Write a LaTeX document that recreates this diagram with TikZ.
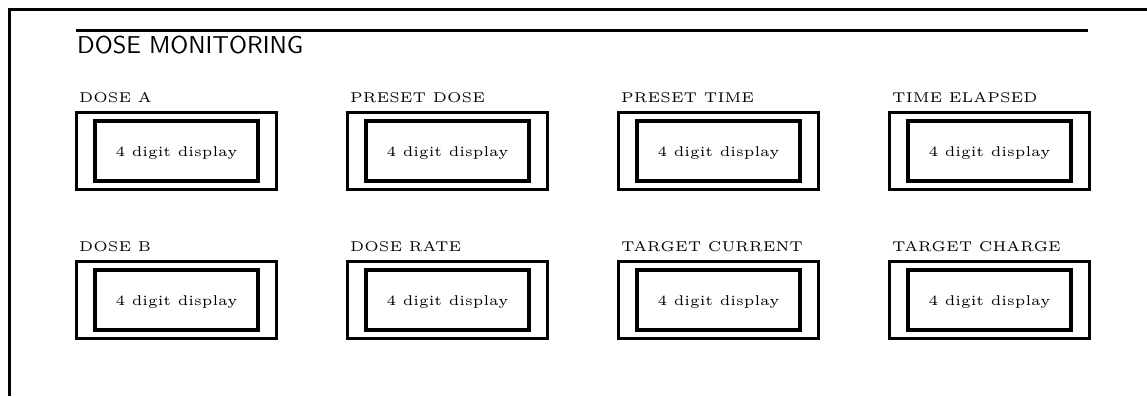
\documentclass[tikz,border=0pt]{standalone}
\usepackage{graphicx}
\newcommand\panelfont[1]{\scalebox{2.83}{\fontsize{5}{6}\selectfont #1}}
\tikzset{
  frameline/.style={line width=3pt},
  outerbox/.style={draw, line width=3pt, minimum width=200pt, minimum height=77pt, inner sep=0pt},
  innerbox/.style={draw, line width=4pt, minimum width=163pt, minimum height=60pt, inner sep=0pt},
  lbl/.style={anchor=base west, inner sep=0pt},
  disp/.style={anchor=base, inner sep=0pt},
  ttl/.style={anchor=base west, inner sep=0pt, font=\sffamily}
}
\begin{document}
\begin{tikzpicture}[x=1pt,y=-1pt]
\useasboundingbox (0,0) rectangle (1147,396);
\coordinate (tr) at (1147,9.5);
\coordinate (tl) at (9.5,9.5);
\coordinate (bl) at (9.5,396);
\draw[frameline] (tr) -- (tl) -- (bl);
\coordinate (ra) at (76,30.5);
\coordinate (rb) at (1088,30.5);
\draw[frameline] (ra) -- (rb);
\node[ttl] (title) at (77,54) {\resizebox{226pt}{!}{DOSE MONITORING}};
\foreach \lab/\c/\r [count=\i] in {DOSE A/0/0, PRESET DOSE/1/0, PRESET TIME/2/0, TIME ELAPSED/3/0,
  DOSE B/0/1, DOSE RATE/1/1, TARGET CURRENT/2/1, TARGET CHARGE/3/1}{
  \pgfmathsetmacro\cx{176.5+271*\c}
  \pgfmathsetmacro\cy{151+149*\r}
  \node[outerbox] (o\i) at (\cx,\cy) {};
  \node[innerbox] (n\i) at (\cx,\cy) {};
  \node[disp] (t\i) at (\cx,\cy+5) {\panelfont{4 digit display}};
  \node[lbl] (l\i) at (\cx-97.5,\cy-49) {\panelfont{\lab}};
}
\end{tikzpicture}
\end{document}
